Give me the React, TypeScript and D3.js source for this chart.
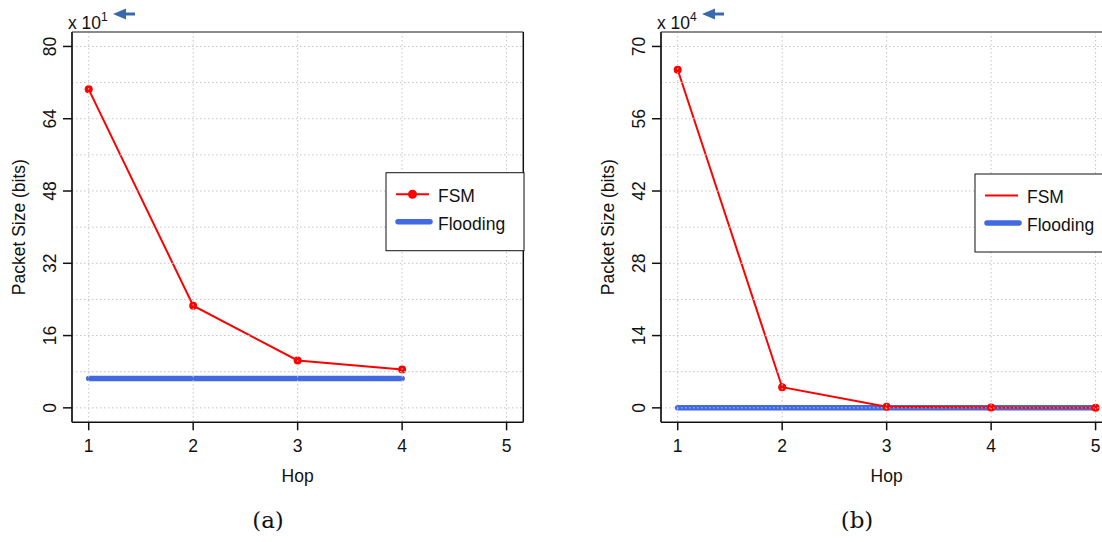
import React from "react";
import * as d3 from "d3";

// Hop counts on the x axis
const HOPS = [1, 2, 3, 4, 5];
const X_TICKS = [1, 2, 3, 4, 5];

// Panel (a): packet size, in units of 10^1 bits
const FSM_A = [70.5, 22.6, 10.5, 8.5];
const FLOOD_A = [6.5, 6.5, 6.5, 6.5];
const Y_TICKS_A = [0, 16, 32, 48, 64, 80];
const Y_GRID_A = [0, 8, 16, 24, 32, 40, 48, 56, 64, 72, 80];

// Panel (b): packet size, in units of 10^4 bits
const FSM_B = [65.5, 4.0, 0.2, 0.05, 0];
const FLOOD_B = [0, 0, 0, 0, 0];
const Y_TICKS_B = [0, 14, 28, 42, 56, 70];
const Y_GRID_B = [0, 7, 14, 21, 28, 35, 42, 49, 56, 63, 70];

const SERIES_NAMES = ["FSM", "Flooding"];

const RED = "#ff0000";
const BLUE = "#4169e1";
const ARROW = "#3a68ad";
const FONT = "'Liberation Sans', Arial, Helvetica, sans-serif";
const FS = 17.5;

type PanelProps = {
  left: number;
  fsm: number[];
  flood: number[];
  yTicks: number[];
  yGrid: number[];
  yMax: number;
  exponent: string;
  caption: string;
  legendTop: number;
  legendMarker: boolean;
};

function Panel({ left, fsm, flood, yTicks, yGrid, yMax, exponent, caption, legendTop, legendMarker }: PanelProps) {
  const W = 451.3;
  const top = 32;
  const bottom = 422.3;
  const right = left + W;

  // R-style 4% padding around the axis limits
  const x = d3.scaleLinear().domain([1 - 0.04 * 4, 5 + 0.04 * 4]).range([left, right]);
  const y = d3.scaleLinear().domain([-0.04 * yMax, yMax * 1.04]).range([bottom, top]);

  const line = d3
    .line<number>()
    .x((_, i) => x(HOPS[i]))
    .y((d) => y(d));

  const legLeft = left + 314;
  const legW = 138;
  const legH = 78;

  return (
    <g>
      {/* data lines */}
      <path d={line(flood) || ""} fill="none" stroke={BLUE} strokeWidth={5.5} strokeLinecap="round" />
      <path d={line(fsm) || ""} fill="none" stroke={RED} strokeWidth={2} />
      {fsm.map((v, i) => (
        <circle key={i} cx={x(HOPS[i])} cy={y(v)} r={4} fill={RED} />
      ))}

      {/* dotted grid */}
      <g stroke="#c4c4c4" strokeWidth={1} strokeDasharray="1.5,2.5">
        {X_TICKS.map((t) => (
          <line key={"gx" + t} x1={x(t)} x2={x(t)} y1={top} y2={bottom} />
        ))}
        {yGrid.map((t) => (
          <line key={"gy" + t} x1={left} x2={right} y1={y(t)} y2={y(t)} />
        ))}
      </g>

      {/* frame */}
      <line x1={left} x2={right} y1={top} y2={top} stroke="#8a8a8a" strokeWidth={2} />
      <line x1={right} x2={right} y1={top} y2={bottom} stroke="#111" strokeWidth={1.5} />
      <line x1={left} x2={right} y1={bottom} y2={bottom} stroke="#111" strokeWidth={1.5} />
      <line x1={left} x2={left} y1={top} y2={bottom} stroke="#333" strokeWidth={2} />

      {/* y axis */}
      {yTicks.map((t) => (
        <g key={"yt" + t}>
          <line x1={left - 9} x2={left} y1={y(t)} y2={y(t)} stroke="#111" strokeWidth={1.5} />
          <text
            transform={`translate(${left - 16},${y(t)}) rotate(-90)`}
            textAnchor="middle"
            fontSize={FS}
            fontFamily={FONT}
            fill="#111"
          >
            {t}
          </text>
        </g>
      ))}
      <text
        transform={`translate(${left - 47},${(top + bottom) / 2}) rotate(-90)`}
        textAnchor="middle"
        fontSize={FS}
        fontFamily={FONT}
        fill="#111"
      >
        Packet Size (bits)
      </text>

      {/* x axis */}
      {X_TICKS.map((t) => (
        <g key={"xt" + t}>
          <line x1={x(t)} x2={x(t)} y1={bottom} y2={bottom + 8} stroke="#111" strokeWidth={1.5} />
          <text x={x(t)} y={451.5} textAnchor="middle" fontSize={FS} fontFamily={FONT} fill="#111">
            {t}
          </text>
        </g>
      ))}
      <text x={(left + right) / 2} y={481.5} textAnchor="middle" fontSize={FS} fontFamily={FONT} fill="#111">
        Hop
      </text>

      {/* scale factor and arrow */}
      <text x={left - 4} y={29} fontSize={FS} fontFamily={FONT} fill="#111">
        x 10
        <tspan dy={-8} fontSize={12}>
          {exponent}
        </tspan>
      </text>
      <path
        d={`M${left + 41},14 L${left + 54},8.5 L${left + 54},12.5 L${left + 63},12.5 L${left + 63},15.5 L${left + 54},15.5 L${left + 54},19.5 Z`}
        fill={ARROW}
      />

      {/* legend */}
      <rect x={legLeft} y={legendTop} width={legW} height={legH} fill="#fff" stroke="#111" strokeWidth={1} />
      <line x1={legLeft + 10} x2={legLeft + 43} y1={legendTop + 21.5} y2={legendTop + 21.5} stroke={RED} strokeWidth={2} />
      {legendMarker && <circle cx={legLeft + 26.5} cy={legendTop + 21.5} r={4.5} fill={RED} />}
      <text x={legLeft + 52} y={legendTop + 29} fontSize={FS} fontFamily={FONT} fill="#111">
        {SERIES_NAMES[0]}
      </text>
      <line
        x1={legLeft + 12}
        x2={legLeft + 44}
        y1={legendTop + 49}
        y2={legendTop + 49}
        stroke={BLUE}
        strokeWidth={5.5}
        strokeLinecap="round"
      />
      <text x={legLeft + 52} y={legendTop + 57} fontSize={FS} fontFamily={FONT} fill="#111">
        {SERIES_NAMES[1]}
      </text>

      {/* caption */}
      <text
        x={left + 196}
        y={528}
        textAnchor="middle"
        fontSize={23}
        fontFamily="'DejaVu Serif', 'Liberation Serif', serif"
        fill="#111"
      >
        {caption}
      </text>
    </g>
  );
}

export default function App() {
  return (
    <svg
      width={1102}
      height={542}
      style={{ position: "absolute", left: 0, top: 0, background: "#fff" }}
    >
      <rect width={1102} height={542} fill="#fff" />
      <Panel
        left={72}
        fsm={FSM_A}
        flood={FLOOD_A}
        yTicks={Y_TICKS_A}
        yGrid={Y_GRID_A}
        yMax={80}
        exponent="1"
        caption="(a)"
        legendTop={172.7}
        legendMarker={true}
      />
      <Panel
        left={661}
        fsm={FSM_B}
        flood={FLOOD_B}
        yTicks={Y_TICKS_B}
        yGrid={Y_GRID_B}
        yMax={70}
        exponent="4"
        caption="(b)"
        legendTop={174}
        legendMarker={false}
      />
    </svg>
  );
}
